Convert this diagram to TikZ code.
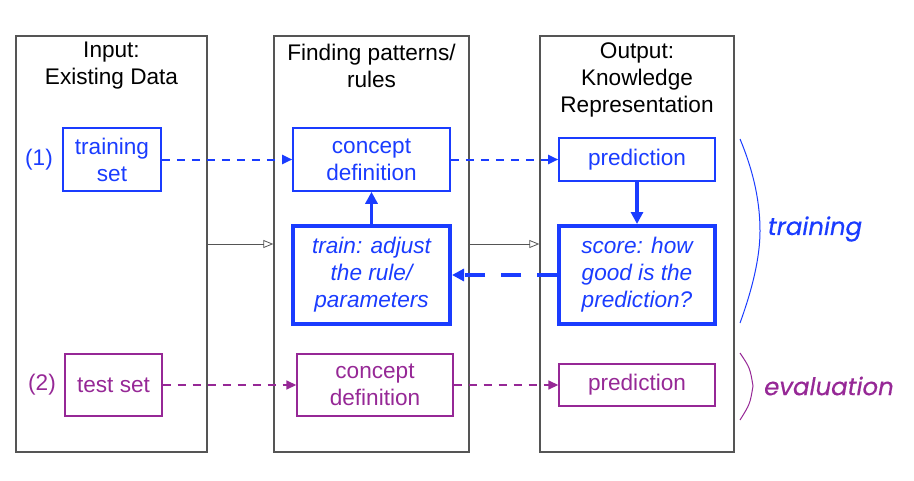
\documentclass[tikz,border=0pt]{standalone}
\usepackage{fontspec}
\setmainfont{Liberation Sans}
\newfontfamily\geofont[FakeBold=0.5]{Poppins}
\usepackage{xcolor}
\usetikzlibrary{arrows.meta}

\definecolor{trainblue}{HTML}{1A3CFF}
\definecolor{evalpurple}{HTML}{962896}
\definecolor{colgray}{HTML}{555555}

\tikzset{
  column/.style={draw=colgray, line width=0.7pt, minimum width=#1, minimum height=208pt, inner sep=0pt},
  coltitle/.style={align=center, font=\fontsize{11.3}{13.5}\selectfont, inner sep=0pt},
  bluebox/.style={draw=trainblue, text=trainblue, line width=0.8pt, align=center, inner sep=0pt,
    font=\fontsize{11.3}{13.5}\selectfont},
  thickbox/.style={bluebox, line width=2pt, font=\fontsize{11.3}{13.5}\selectfont\itshape},
  purplebox/.style={draw=evalpurple, text=evalpurple, line width=0.7pt, align=center, inner sep=0pt,
    font=\fontsize{11.3}{13.5}\selectfont},
  flow/.style={dashed, dash pattern=on 4pt off 3.5pt, line width=1pt, -{Triangle[length=5pt,width=4.5pt]}},
  feedback/.style={line width=1.6pt, -{Triangle[length=6pt,width=6pt]}},
  stage/.style={colgray, line width=0.4pt, -{Triangle[open,length=5pt,width=4pt]}},
  tag/.style={font=\geofont\itshape\fontsize{12.2}{14}\selectfont, inner sep=0pt}
}

\begin{document}
\begin{tikzpicture}[x=0.5pt, y=-0.5pt]
\useasboundingbox (0,0) rectangle (914,481);

% three columns
\node[column=95.5pt] (incol) at (111.5,244) {};
\node[column=97.5pt] (patcol) at (371.5,244) {};
\node[column=97pt] (outcol) at (637,244) {};

\node[coltitle] (intitle) at (111.5,66) {Input:\\Existing Data};
\node[coltitle] (pattitle) at (371.5,66) {Finding patterns/\\rules};
\node[coltitle] (outtitle) at (637,80) {Output:\\Knowledge\\Representation};

% training row
\node[bluebox, minimum width=49pt, minimum height=31.5pt] (trainset) at (112,159.5) {training\\set};
\node[bluebox, minimum width=78.5pt, minimum height=31.5pt] (conceptA) at (371.5,159.5) {concept\\definition};
\node[bluebox, minimum width=78pt, minimum height=21.5pt] (predA) at (637,159.5) {prediction};
\node[thickbox, minimum width=78.5pt, minimum height=49pt] (adjust) at (371.5,275) {train: adjust\\the rule/\\parameters};
\node[thickbox, minimum width=78pt, minimum height=49pt] (score) at (637,275) {score: how\\good is the\\prediction?};
\node[text=trainblue, font=\fontsize{11.3}{13.5}\selectfont, inner sep=0pt] (labA) at (39,160) {(1)};

% evaluation row
\node[purplebox, minimum width=48.5pt, minimum height=31pt] (testset) at (113.5,385) {test set};
\node[purplebox, minimum width=78pt, minimum height=31pt] (conceptB) at (375,385) {concept\\definition};
\node[purplebox, minimum width=78pt, minimum height=21pt] (predB) at (637,385) {prediction};
\node[text=evalpurple, font=\fontsize{11.3}{13.5}\selectfont, inner sep=0pt] (labB) at (42,385) {(2)};

% connectors
\draw[stage] (incol.east) -- (patcol.west);
\draw[stage] (patcol.east) -- (outcol.west);

\draw[flow, trainblue] (trainset) -- (conceptA);
\draw[flow, trainblue] (conceptA) -- (predA);
\draw[feedback, trainblue] (predA) -- (score);
\draw[feedback, trainblue] (adjust) -- (conceptA);
\draw[feedback, trainblue, dashed, dash pattern=on 10pt off 8pt] (score) -- (adjust);

\draw[flow, evalpurple, line width=0.8pt] (testset) -- (conceptB);
\draw[flow, evalpurple, line width=0.8pt] (conceptB) -- (predB);

% brackets
\coordinate (trtop) at (740,139);
\coordinate (trmid) at (760,231);
\coordinate (trbot) at (740,323);
\draw[trainblue, line width=0.5pt] (trtop) .. controls (755,175) and (760,205) .. (trmid)
  .. controls (760,258) and (752,290) .. (trbot);
\coordinate (evtop) at (740,353);
\coordinate (evmid) at (753,386);
\coordinate (evbot) at (740,420);
\draw[evalpurple, line width=0.5pt] (evtop) .. controls (750,368) .. (evmid)
  .. controls (750,404) .. (evbot);

\node[tag, text=trainblue] (trtag) at (815,229) {training};
\node[tag, text=evalpurple] (evtag) at (829,386) {evaluation};
\end{tikzpicture}
\end{document}
